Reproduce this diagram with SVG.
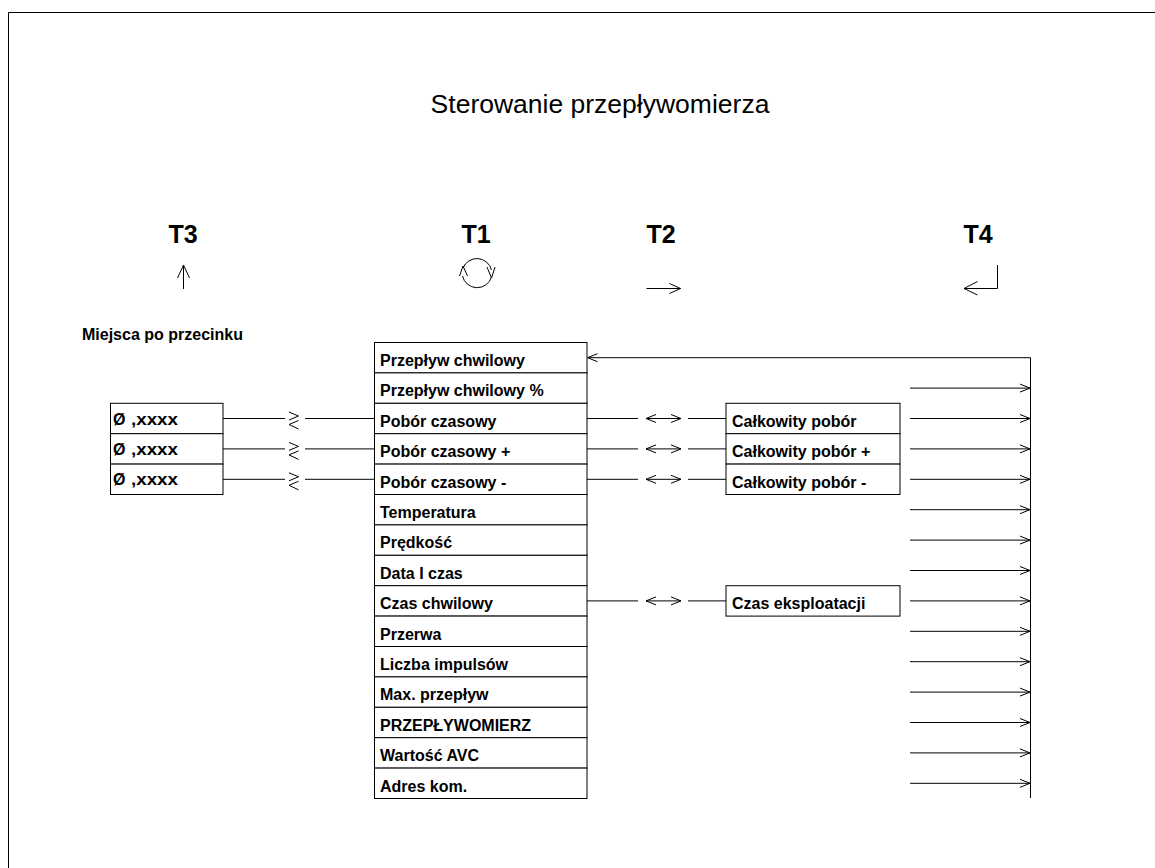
<svg xmlns="http://www.w3.org/2000/svg" width="1155" height="868" viewBox="0 0 1155 868">
<defs>
<style>
.t{font-family:"Liberation Sans",Arial,sans-serif;font-weight:bold;font-size:16px;fill:#000}
.hd{font-family:"Liberation Sans",Arial,sans-serif;font-weight:bold;font-size:25px;fill:#000;text-anchor:middle}
.ti{font-family:"Liberation Sans",Arial,sans-serif;font-size:26.5px;fill:#000;text-anchor:middle}
.box{fill:#fff;stroke:#000;stroke-width:1}
.ln{fill:none;stroke:#000;stroke-width:1}
</style>
<marker id="ah" viewBox="0 0 10 10" refX="10" refY="5" markerWidth="10" markerHeight="10" markerUnits="userSpaceOnUse" orient="auto-start-reverse">
<path d="M0,1 L10,5 L0,9" fill="none" stroke="#000" stroke-width="1"/>
</marker>
</defs>
<rect width="1155" height="868" fill="#fff"/>
<g id="frame"><path class="ln" d="M8.5,868 V12.5 H1155"/></g>
<g id="title"><text class="ti" x="600" y="113">Sterowanie przepływomierza</text></g>

<g id="T3"><text class="hd" x="183" y="243">T3</text><path class="ln" d="M183.5,289 V265 M177.5,278 L183.5,265 L189.5,278"/></g>
<g id="T1"><text class="hd" x="476" y="243">T1</text>
<path class="ln" d="M463,268 A15,15 0 0 1 491.5,270 M491.5,277 A15,15 0 0 1 462.5,276"/>
<path class="ln" d="M459.5,276 L463,266 L467.5,276 M487,267 L491.5,278 L495,267"/></g>
<g id="T2"><text class="hd" x="661" y="243">T2</text><path class="ln" d="M646.5,288.5 H680.5 M669.5,283.5 L680.5,288.5 L669.5,293.5"/></g>
<g id="T4"><text class="hd" x="978" y="243">T4</text><path class="ln" d="M997.5,265 V288.5 H964 M977.5,281.5 L964,288.5 L977.5,295"/></g>

<g id="label-miejsca"><text class="t" x="82" y="340">Miejsca po przecinku</text></g>

<g id="left-boxes">
<g id="l1"><rect class="box" x="110.5" y="403.3" width="112.5" height="30.4"/><text class="t" x="113" y="424.5">Ø</text><text class="t" x="131" y="424.5" textLength="47" lengthAdjust="spacingAndGlyphs">,xxxx</text></g>
<g id="l2"><rect class="box" x="110.5" y="433.7" width="112.5" height="30.4"/><text class="t" x="113" y="454.9">Ø</text><text class="t" x="131" y="454.9" textLength="47" lengthAdjust="spacingAndGlyphs">,xxxx</text></g>
<g id="l3"><rect class="box" x="110.5" y="464.1" width="112.5" height="30.4"/><text class="t" x="113" y="485.3">Ø</text><text class="t" x="131" y="485.3" textLength="47" lengthAdjust="spacingAndGlyphs">,xxxx</text></g>
</g>

<g id="list">
<g id="r1"><rect class="box" x="374.5" y="342.5" width="212.5" height="30.4"/><text class="t" x="380" y="366">Przepływ chwilowy</text></g>
<g id="r2"><rect class="box" x="374.5" y="372.9" width="212.5" height="30.4"/><text class="t" x="380" y="396.4">Przepływ chwilowy %</text></g>
<g id="r3"><rect class="box" x="374.5" y="403.3" width="212.5" height="30.4"/><text class="t" x="380" y="426.8">Pobór czasowy</text></g>
<g id="r4"><rect class="box" x="374.5" y="433.7" width="212.5" height="30.4"/><text class="t" x="380" y="457.2">Pobór czasowy +</text></g>
<g id="r5"><rect class="box" x="374.5" y="464.1" width="212.5" height="30.4"/><text class="t" x="380" y="487.6">Pobór czasowy -</text></g>
<g id="r6"><rect class="box" x="374.5" y="494.5" width="212.5" height="30.4"/><text class="t" x="380" y="518">Temperatura</text></g>
<g id="r7"><rect class="box" x="374.5" y="524.9" width="212.5" height="30.4"/><text class="t" x="380" y="548.4">Prędkość</text></g>
<g id="r8"><rect class="box" x="374.5" y="555.3" width="212.5" height="30.4"/><text class="t" x="380" y="578.8">Data I czas</text></g>
<g id="r9"><rect class="box" x="374.5" y="585.7" width="212.5" height="30.4"/><text class="t" x="380" y="609.2">Czas chwilowy</text></g>
<g id="r10"><rect class="box" x="374.5" y="616.1" width="212.5" height="30.4"/><text class="t" x="380" y="639.6">Przerwa</text></g>
<g id="r11"><rect class="box" x="374.5" y="646.5" width="212.5" height="30.4"/><text class="t" x="380" y="670">Liczba impulsów</text></g>
<g id="r12"><rect class="box" x="374.5" y="676.9" width="212.5" height="30.4"/><text class="t" x="380" y="700.4">Max. przepływ</text></g>
<g id="r13"><rect class="box" x="374.5" y="707.3" width="212.5" height="30.4"/><text class="t" x="380" y="730.8">PRZEPŁYWOMIERZ</text></g>
<g id="r14"><rect class="box" x="374.5" y="737.7" width="212.5" height="30.4"/><text class="t" x="380" y="761.2">Wartość AVC</text></g>
<g id="r15"><rect class="box" x="374.5" y="768.1" width="212.5" height="30.4"/><text class="t" x="380" y="791.6">Adres kom.</text></g>
</g>

<g id="right-boxes">
<g id="c1"><rect class="box" x="726" y="403.3" width="174" height="30.4"/><text class="t" x="732" y="426.8">Całkowity pobór</text></g>
<g id="c2"><rect class="box" x="726" y="433.7" width="174" height="30.4"/><text class="t" x="732" y="457.2">Całkowity pobór +</text></g>
<g id="c3"><rect class="box" x="726" y="464.1" width="174" height="30.4"/><text class="t" x="732" y="487.6">Całkowity pobór -</text></g>
<g id="c4"><rect class="box" x="726" y="585.7" width="174" height="30.4"/><text class="t" x="732" y="609.2">Czas eksploatacji</text></g>
</g>

<g id="connectors">
<path class="ln" d="M223,418.5 H285 M305,418.5 H374.5 M289,412 L298.5,416 L289,420 M298.5,420.5 L289,424.5 L298.5,429"/>
<path class="ln" d="M223,448.9 H285 M305,448.9 H374.5 M289,442.4 L298.5,446.4 L289,450.4 M298.5,450.9 L289,454.9 L298.5,459.4"/>
<path class="ln" d="M223,479.3 H285 M305,479.3 H374.5 M289,472.8 L298.5,476.8 L289,480.8 M298.5,481.3 L289,485.3 L298.5,489.8"/>
<g>
<path class="ln" d="M587,418.5 H638 M688,418.5 H726"/>
<path class="ln" d="M646,418.5 H681" marker-start="url(#ah)" marker-end="url(#ah)"/>
<path class="ln" d="M587,448.9 H638 M688,448.9 H726"/>
<path class="ln" d="M646,448.9 H681" marker-start="url(#ah)" marker-end="url(#ah)"/>
<path class="ln" d="M587,479.3 H638 M688,479.3 H726"/>
<path class="ln" d="M646,479.3 H681" marker-start="url(#ah)" marker-end="url(#ah)"/>
<path class="ln" d="M587,600.9 H638 M688,600.9 H726"/>
<path class="ln" d="M646,600.9 H681" marker-start="url(#ah)" marker-end="url(#ah)"/>
</g>
<path class="ln" d="M1030.5,798 V357.7 H587.5" marker-end="url(#ah)"/>
<g>
<path class="ln" d="M910,388.1 H1030" marker-end="url(#ah)"/>
<path class="ln" d="M910,418.5 H1030" marker-end="url(#ah)"/>
<path class="ln" d="M910,448.9 H1030" marker-end="url(#ah)"/>
<path class="ln" d="M910,479.3 H1030" marker-end="url(#ah)"/>
<path class="ln" d="M910,509.7 H1030" marker-end="url(#ah)"/>
<path class="ln" d="M910,540.1 H1030" marker-end="url(#ah)"/>
<path class="ln" d="M910,570.5 H1030" marker-end="url(#ah)"/>
<path class="ln" d="M910,600.9 H1030" marker-end="url(#ah)"/>
<path class="ln" d="M910,631.3 H1030" marker-end="url(#ah)"/>
<path class="ln" d="M910,661.7 H1030" marker-end="url(#ah)"/>
<path class="ln" d="M910,692.1 H1030" marker-end="url(#ah)"/>
<path class="ln" d="M910,722.5 H1030" marker-end="url(#ah)"/>
<path class="ln" d="M910,752.9 H1030" marker-end="url(#ah)"/>
<path class="ln" d="M910,783.3 H1030" marker-end="url(#ah)"/>
</g>
</g>
</svg>
